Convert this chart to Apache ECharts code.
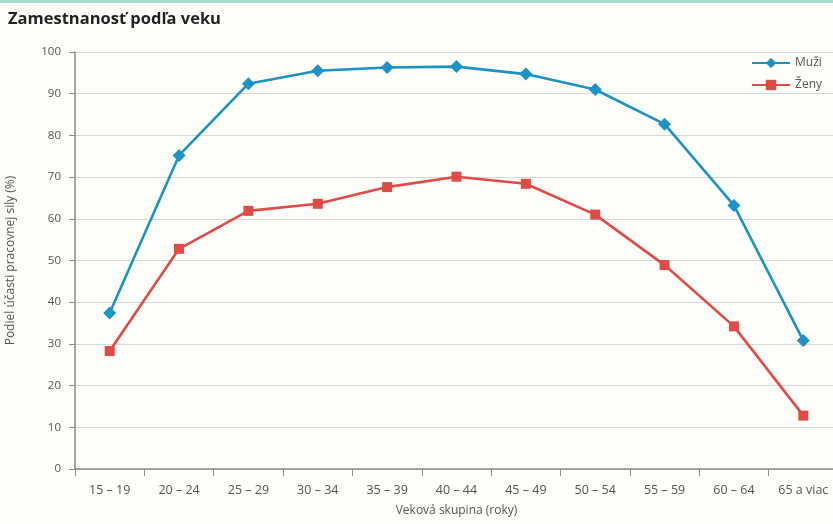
<!DOCTYPE html>
<html>
<head>
<meta charset="utf-8">
<style>
  html, body { margin: 0; padding: 0; background: #fdfdf9; overflow: hidden; }
  #topbar { position: absolute; left: 0; top: 0; width: 833px; height: 3px; background: #a9dcd5; z-index: 2; }
  #chart { width: 833px; height: 524px; }
</style>
<script src="https://cdn.jsdelivr.net/npm/echarts@6/dist/echarts.min.js"></script>
</head>
<body>
<div id="topbar"></div>
<div id="chart"></div>
<script>
// Age groups and labour-force participation rates (%)
const ageGroups = ['15 – 19', '20 – 24', '25 – 29', '30 – 34', '35 – 39', '40 – 44', '45 – 49', '50 – 54', '55 – 59', '60 – 64', '65 a viac'];
const men   = [37.4, 75.2, 92.4, 95.5, 96.3, 96.5, 94.7, 91.0, 82.7, 63.2, 30.8];
const women = [28.3, 52.8, 61.9, 63.6, 67.6, 70.1, 68.4, 61.0, 48.9, 34.2, 12.8];
const yTicks = { min: 0, max: 100, interval: 10 };

const font = '"Open Sans", sans-serif';
const chart = echarts.init(document.getElementById('chart'), null, { renderer: 'canvas' });

chart.setOption({
  backgroundColor: '#fdfdf9',
  animation: false,
  title: {
    text: 'Zamestnanosť podľa veku',
    left: 3, top: 6,
    textStyle: { fontFamily: font, fontWeight: 'bold', fontSize: 16.5, color: '#222' }
  },
  legend: {
    orient: 'vertical',
    right: 6, top: 52,
    itemWidth: 38, itemHeight: 13, itemGap: 10,
    textStyle: { fontFamily: font, fontSize: 12, color: '#555' },
    data: ['Muži', 'Ženy']
  },
  // the last category runs past the right edge of the canvas
  grid: { left: 75, top: 52, right: -5, bottom: 55, outerBoundsMode: 'none', containLabel: false },
  xAxis: {
    type: 'category',
    data: ageGroups,
    boundaryGap: true,
    name: 'Veková skupina (roky)',
    nameLocation: 'middle',
    nameGap: 36,
    nameTextStyle: { fontFamily: font, fontSize: 12, color: '#555' },
    axisLine: { lineStyle: { color: '#8a8a8a', width: 1.5 } },
    axisTick: { show: true, length: 7, lineStyle: { color: '#8a8a8a' } },
    axisLabel: { fontFamily: font, fontSize: 12.5, color: '#555', margin: 15 }
  },
  yAxis: {
    type: 'value',
    min: yTicks.min, max: yTicks.max, interval: yTicks.interval,
    name: 'Podiel účasti pracovnej sily (%)',
    nameLocation: 'middle',
    nameGap: 58,
    nameTextStyle: { fontFamily: font, fontSize: 12, color: '#555' },
    axisLine: { show: true, lineStyle: { color: '#8a8a8a', width: 1.5 } },
    axisTick: { show: true, length: 6, lineStyle: { color: '#8a8a8a' } },
    axisLabel: { fontFamily: font, fontSize: 11.5, color: '#555', margin: 14 },
    splitLine: { lineStyle: { color: '#d8d8d6', width: 1.2 } }
  },
  series: [
    {
      name: 'Muži',
      type: 'line',
      data: men,
      symbol: 'diamond',
      symbolSize: 13,
      color: '#1c93c2',
      lineStyle: { width: 2.6, color: '#1c93c2' },
      itemStyle: { color: '#1c93c2' }
    },
    {
      name: 'Ženy',
      type: 'line',
      data: women,
      symbol: 'rect',
      symbolSize: 10,
      color: '#e04b47',
      lineStyle: { width: 2.6, color: '#e04b47' },
      itemStyle: { color: '#e04b47' }
    }
  ]
});
</script>
</body>
</html>
